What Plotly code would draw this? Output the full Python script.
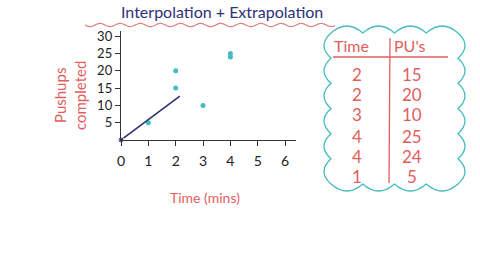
import math
import plotly.graph_objects as go

# ---- data ----
table_time = [2, 2, 3, 4, 4, 1]
table_pus = [15, 20, 10, 25, 24, 5]
fit_x = [0, 2.15]
fit_y = [0, 12.7]
x_ticks = [0, 1, 2, 3, 4, 5, 6]
y_ticks = [5, 10, 15, 20, 25, 30]

title_text = "Interpolation + Extrapolation"
x_title = "Time (mins)"
y_title = "Pushups<br>completed"
col_headers = ["Time", "PU's"]

# ---- layout geometry ----
W, H = 480, 270
L, R, T, B = 121, 184, 31, 130
PW, PH = W - L - R, H - T - B
RED = "#e35d5d"
TEAL = "#45bcbf"
NAVY = "#2d3178"
FONT = "Lato"


def P(px, py):
    return (px - L) / PW, (H - B - py) / PH


def note(text, px, py, size, color, angle=0):
    x, y = P(px, py)
    return dict(text=text, x=x, y=y, xref="paper", yref="paper", showarrow=False,
                xanchor="center", yanchor="middle", textangle=angle,
                font=dict(family=FONT, size=size, color=color))


fig = go.Figure()
fig.add_trace(go.Scatter(
    x=table_time, y=table_pus, mode="markers",
    marker=dict(color=TEAL, size=5), cliponaxis=False, showlegend=False))
fig.add_trace(go.Scatter(
    x=fit_x, y=fit_y, mode="lines+markers",
    line=dict(color=NAVY, width=1.6),
    marker=dict(color=NAVY, size=[6, 0]), cliponaxis=False, showlegend=False))

shapes = []
annotations = []

# title + wavy underline
annotations.append(note(title_text, 222, 12, 16, NAVY))
pts = []
x0, x1 = 85, 335
n = 200
for i in range(n + 1):
    px = x0 + (x1 - x0) * i / n
    py = 25 + 1.6 * math.sin((px - x0) / 3.2)
    pts.append(P(px, py))
path = "M " + " L ".join(f"{a:.4f},{b:.4f}" for a, b in pts)
shapes.append(dict(type="path", path=path, xref="paper", yref="paper",
                   line=dict(color="#e08080", width=1.2)))

# axis titles
annotations.append(note(x_title, 205, 197, 14, RED))
annotations.append(note(y_title, 70, 96, 15, RED, angle=-90))


# cloud outline
def bumps(p0, p1, count, out):
    segs = []
    for i in range(count):
        a = (p0[0] + (p1[0] - p0[0]) * i / count, p0[1] + (p1[1] - p0[1]) * i / count)
        b = (p0[0] + (p1[0] - p0[0]) * (i + 1) / count, p0[1] + (p1[1] - p0[1]) * (i + 1) / count)
        m = ((a[0] + b[0]) / 2 + out[0], (a[1] + b[1]) / 2 + out[1])
        segs.append((m, b))
    return segs


cx0, cx1, cy0, cy1 = 331, 458, 33, 184
corners = [(cx0, cy0), (cx1, cy0), (cx1, cy1), (cx0, cy1)]
outs = [(0, -14), (14, 0), (0, 14), (-14, 0)]
counts = [4, 6, 4, 6]
start = P(*corners[0])
cpath = f"M {start[0]:.4f},{start[1]:.4f}"
for k in range(4):
    for m, b in bumps(corners[k], corners[(k + 1) % 4], counts[k], outs[k]):
        mp, bp = P(*m), P(*b)
        cpath += f" Q {mp[0]:.4f},{mp[1]:.4f} {bp[0]:.4f},{bp[1]:.4f}"
cpath += " Z"
shapes.append(dict(type="path", path=cpath, xref="paper", yref="paper",
                   line=dict(color=TEAL, width=1.3)))

# table lines
a, b = P(333, 57)
c, d = P(448, 57)
shapes.append(dict(type="line", x0=a, y0=b, x1=c, y1=d, xref="paper", yref="paper",
                   line=dict(color=RED, width=1.3)))
a, b = P(390, 38)
c, d = P(389, 183)
shapes.append(dict(type="line", x0=a, y0=b, x1=c, y1=d, xref="paper", yref="paper",
                   line=dict(color=RED, width=1.3)))

# table text
for txt, px in zip(col_headers, [351, 410]):
    annotations.append(note(txt, px, 46, 16, RED))
row_y = [74, 94, 114, 136, 156, 176]
for t_val, p_val, py in zip(table_time, table_pus, row_y):
    annotations.append(note(str(t_val), 357, py, 17, RED))
    annotations.append(note(str(p_val), 412, py, 17, RED))

fig.update_layout(
    width=W, height=H,
    margin=dict(l=L, r=R, t=T, b=B, pad=0),
    paper_bgcolor="white", plot_bgcolor="white",
    shapes=shapes, annotations=annotations,
    xaxis=dict(range=[0, 6.4], tickvals=x_ticks, showgrid=False, zeroline=False,
               showline=True, linecolor="#333", linewidth=1.4,
               ticks="outside", ticklen=5, tickcolor="#333", ticklabelstandoff=3,
               tickfont=dict(family=FONT, size=14, color="#222")),
    yaxis=dict(range=[0, 31.5], tickvals=y_ticks, showgrid=False, zeroline=False,
               showline=True, linecolor="#333", linewidth=1.4,
               ticks="outside", ticklen=5, tickcolor="#333",
               tickfont=dict(family=FONT, size=13, color="#222")),
)

fig.write_html("out.html")
